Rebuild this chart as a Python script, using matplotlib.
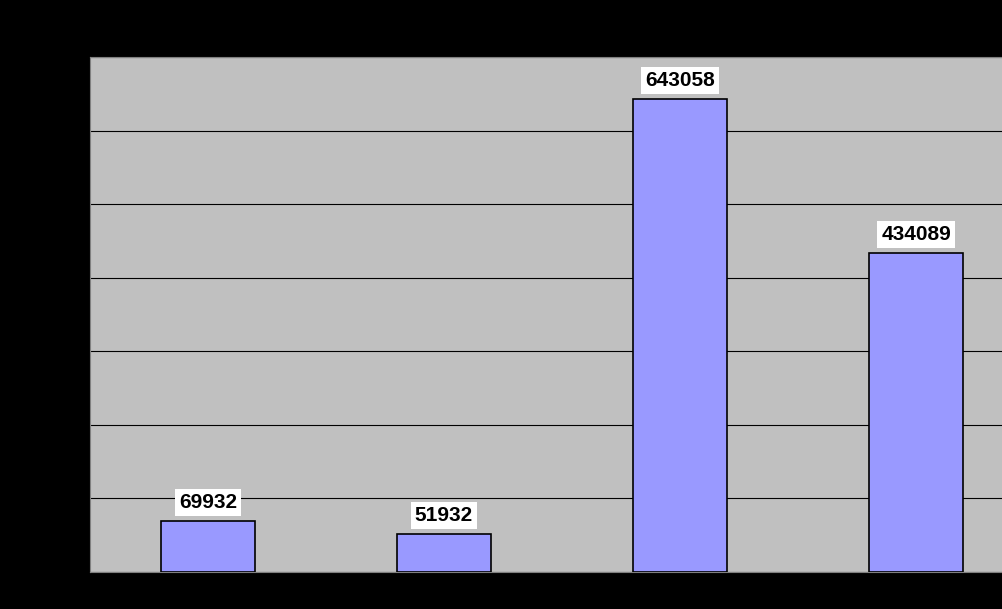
import matplotlib
matplotlib.use("Agg")
import matplotlib.pyplot as plt

categories = ["A", "B", "C", "D"]
values = [69932, 51932, 643058, 434089]

fig = plt.figure(figsize=(10.02, 6.09), dpi=100, facecolor="black")
W, H = 1002, 609
ax = fig.add_axes([90/W, (H-572)/H, (1270-90)/W, (572-57)/H])
ax.set_facecolor("#c0c0c0")
x = list(range(len(categories)))
ax.bar(x, values, width=0.4, color="#9999ff", edgecolor="black", linewidth=1.2, zorder=3)
ax.set_xlim(-0.5, 4.5)
ax.set_ylim(0, 700000)
ax.set_yticks(range(0, 700001, 100000))
ax.yaxis.grid(True, color="black", linewidth=0.8, zorder=0)
ax.tick_params(colors="black", labelcolor="black")
ax.set_xticks(x)
ax.set_xticklabels(categories)
for s in ax.spines.values():
    s.set_color("#808080")
for xi, v in zip(x, values):
    ax.text(xi, v + 12000, str(v), ha="center", va="bottom", fontsize=15, fontweight="bold",
            family="Liberation Sans", bbox=dict(facecolor="white", edgecolor="none", pad=3), zorder=4)
fig.savefig("out.png", dpi=100, facecolor="black")
